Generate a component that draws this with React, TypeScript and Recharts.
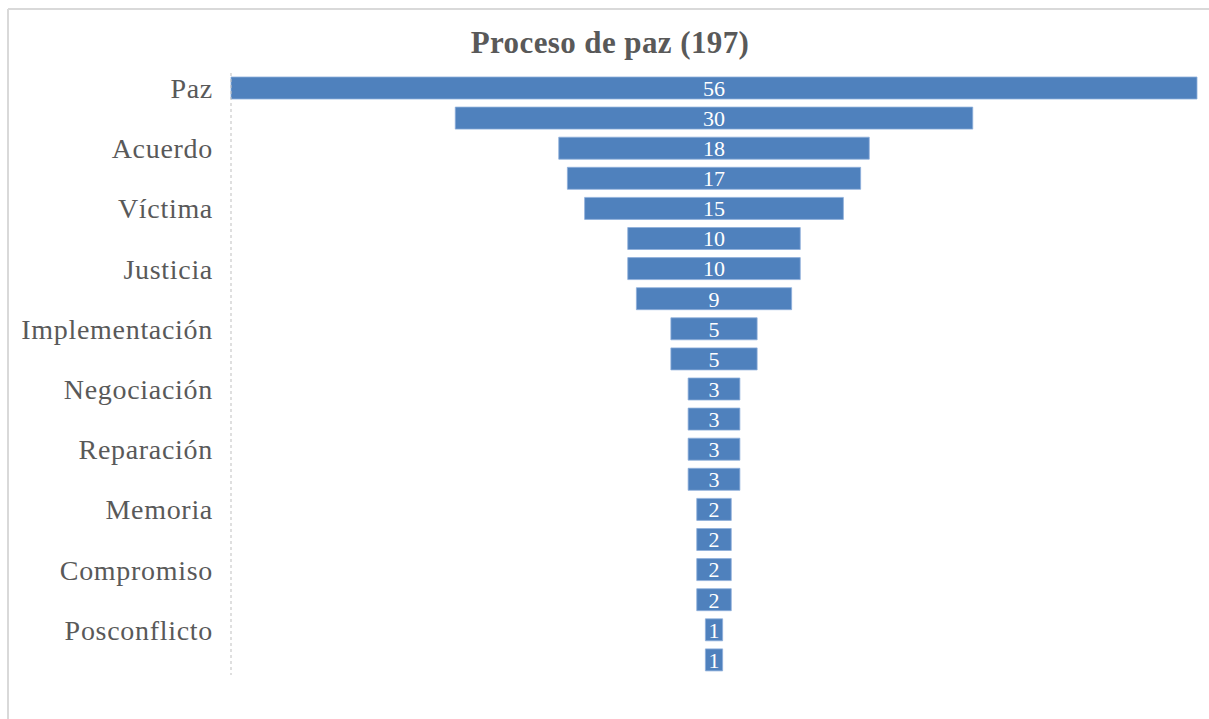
import { Bar, BarChart, LabelList, XAxis, YAxis } from "recharts";

// Term frequencies, largest first. The axis only labels every other row.
const TERMS = [
  "Paz",
  "",
  "Acuerdo",
  "",
  "Víctima",
  "",
  "Justicia",
  "",
  "Implementación",
  "",
  "Negociación",
  "",
  "Reparación",
  "",
  "Memoria",
  "",
  "Compromiso",
  "",
  "Posconflicto",
  "",
];

const COUNTS = [56, 30, 18, 17, 15, 10, 10, 9, 5, 5, 3, 3, 3, 3, 2, 2, 2, 2, 1, 1];

const TITLE = "Proceso de paz (197)";

const MAX = Math.max(...COUNTS);

// funnel: a transparent spacer pushes each bar so it sits centred
const rows = COUNTS.map((count, i) => ({
  id: i,
  spacer: (MAX - count) / 2,
  count,
}));

const FONT = "'Liberation Serif', 'Times New Roman', serif";
const GREY = "#595959";
const BLUE = "#4F81BD";

export default function App() {
  return (
    <div
      style={{
        position: "fixed",
        top: 0,
        left: 0,
        width: 1209,
        height: 719,
        background: "#fff",
      }}
    >
      <svg
        width={1209}
        height={719}
        style={{ position: "absolute", top: 0, left: 0 }}
      >
        <line x1={8} y1={9} x2={1209} y2={9} stroke="#d9d9d9" strokeWidth={2} />
        <line x1={8} y1={9} x2={8} y2={719} stroke="#d9d9d9" strokeWidth={2} />
        <text
          x={610}
          y={53}
          textAnchor="middle"
          fontFamily={FONT}
          fontWeight="bold"
          fontSize={31}
          letterSpacing={0.4}
          fill={GREY}
        >
          {TITLE}
        </text>
      </svg>
      <div style={{ position: "absolute", top: 0, left: 0 }}>
        <BarChart
          width={1209}
          height={719}
          data={rows}
          layout="vertical"
          margin={{ top: 73, right: 12, bottom: 44, left: 0 }}
          barCategoryGap={4}
        >
          <XAxis type="number" domain={[0, MAX]} hide />
          <YAxis
            type="category"
            dataKey="id"
            width={231}
            interval={0}
            tickLine={false}
            tickSize={0}
            tickMargin={18}
            tickFormatter={(id: number) => TERMS[id]}
            tick={{ fontSize: 28, fill: GREY, fontFamily: FONT, letterSpacing: 0.7 }}
            axisLine={{ stroke: "#bfbfbf", strokeDasharray: "3 3" }}
          />
          <Bar
            dataKey="spacer"
            stackId="f"
            fill="transparent"
            isAnimationActive={false}
          />
          <Bar
            dataKey="count"
            stackId="f"
            fill={BLUE}
            stroke="#8eaedb"
            strokeWidth={0.8}
            isAnimationActive={false}
          >
            <LabelList
              dataKey="count"
              position="center"
              fill="#ffffff"
              fontSize={22}
              fontFamily={FONT}
            />
          </Bar>
        </BarChart>
      </div>
    </div>
  );
}
